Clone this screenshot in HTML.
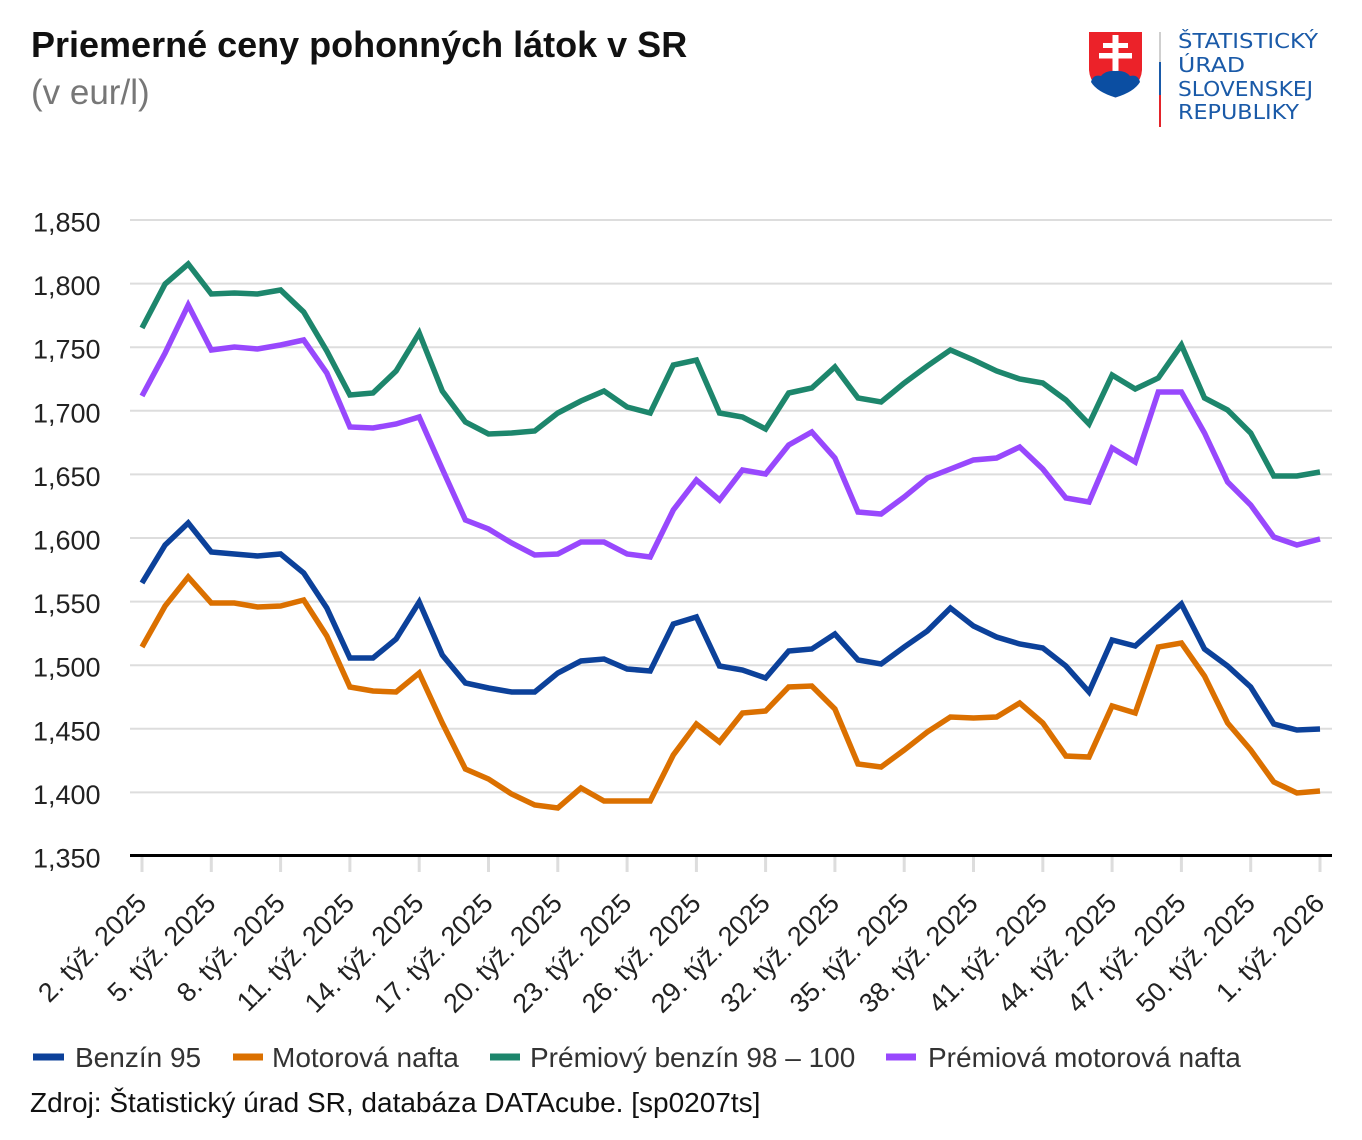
<!DOCTYPE html>
<html>
<head>
<meta charset="utf-8">
<style>
  html, body { margin: 0; padding: 0; background: #ffffff; }
  body { width: 1362px; height: 1140px; overflow: hidden; }
  svg { display: block; }
  text { font-family: "Liberation Sans", Arial, sans-serif; }
</style>
</head>
<body>
<svg width="1362" height="1140" viewBox="0 0 1362 1140" xmlns="http://www.w3.org/2000/svg">
  <rect x="0" y="0" width="1362" height="1140" fill="#ffffff"/>

  <!-- Title -->
  <text x="31" y="57" font-size="36" font-weight="bold" fill="#111111">Priemerné ceny pohonných látok v SR</text>
  <text x="31" y="104" font-size="35" fill="#777777">(v eur/l)</text>

  <!-- Logo -->
  <g>
    <path d="M1089,32 L1142,32 L1142,70 Q1141,88 1115.5,97.5 Q1090,88 1089,70 Z" fill="#ec2229"/>
    <rect x="1112.5" y="35" width="6" height="38" fill="#ffffff"/>
    <rect x="1103" y="43" width="25" height="5" fill="#ffffff"/>
    <rect x="1099" y="53" width="33" height="5.5" fill="#ffffff"/>
    <path d="M1091,82 Q1093,74 1101,76 Q1106,70 1115.5,71 Q1125,70 1130,76 Q1138,74 1140,82 Q1134,92 1115.5,97.5 Q1097,92 1091,82 Z" fill="#0b4ea2"/>
    <rect x="1159" y="32" width="2" height="30" fill="#cfcfcf"/>
    <rect x="1159" y="62" width="2" height="33" fill="#1a5aa8"/>
    <rect x="1159" y="95" width="2" height="32" fill="#e3232a"/>
    <g fill="#1a5aa8" font-size="20" style="font-family:'DejaVu Sans','Liberation Sans',sans-serif">
      <text x="1178" y="48" textLength="140" lengthAdjust="spacingAndGlyphs" style="font-family:'DejaVu Sans','Liberation Sans',sans-serif">ŠTATISTICKÝ</text>
      <text x="1178" y="72" textLength="67" lengthAdjust="spacingAndGlyphs" style="font-family:'DejaVu Sans','Liberation Sans',sans-serif">ÚRAD</text>
      <text x="1178" y="96" textLength="135" lengthAdjust="spacingAndGlyphs" style="font-family:'DejaVu Sans','Liberation Sans',sans-serif">SLOVENSKEJ</text>
      <text x="1178" y="119" textLength="121" lengthAdjust="spacingAndGlyphs" style="font-family:'DejaVu Sans','Liberation Sans',sans-serif">REPUBLIKY</text>
    </g>
  </g>

  <!-- Gridlines -->
  <g stroke="#dddddd" stroke-width="2">
    <line x1="130" y1="220" x2="1332" y2="220"/>
    <line x1="130" y1="283.6" x2="1332" y2="283.6"/>
    <line x1="130" y1="347.2" x2="1332" y2="347.2"/>
    <line x1="130" y1="410.8" x2="1332" y2="410.8"/>
    <line x1="130" y1="474.4" x2="1332" y2="474.4"/>
    <line x1="130" y1="538" x2="1332" y2="538"/>
    <line x1="130" y1="601.6" x2="1332" y2="601.6"/>
    <line x1="130" y1="665.2" x2="1332" y2="665.2"/>
    <line x1="130" y1="728.8" x2="1332" y2="728.8"/>
    <line x1="130" y1="792.4" x2="1332" y2="792.4"/>
  </g>

  <!-- Y labels -->
  <g font-size="27" fill="#222222">
    <text x="33" y="231.5">1,850</text>
    <text x="33" y="295.1">1,800</text>
    <text x="33" y="358.7">1,750</text>
    <text x="33" y="422.3">1,700</text>
    <text x="33" y="485.9">1,650</text>
    <text x="33" y="549.5">1,600</text>
    <text x="33" y="613.1">1,550</text>
    <text x="33" y="676.7">1,500</text>
    <text x="33" y="740.3">1,450</text>
    <text x="33" y="803.9">1,400</text>
    <text x="33" y="867.5">1,350</text>
  </g>

  <!-- Ticks -->
  <g stroke="#dddddd" stroke-width="3">
    <line x1="142" y1="857" x2="142" y2="872"/>
    <line x1="211.3" y1="857" x2="211.3" y2="872"/>
    <line x1="280.6" y1="857" x2="280.6" y2="872"/>
    <line x1="349.9" y1="857" x2="349.9" y2="872"/>
    <line x1="419.2" y1="857" x2="419.2" y2="872"/>
    <line x1="488.5" y1="857" x2="488.5" y2="872"/>
    <line x1="557.8" y1="857" x2="557.8" y2="872"/>
    <line x1="627.1" y1="857" x2="627.1" y2="872"/>
    <line x1="696.4" y1="857" x2="696.4" y2="872"/>
    <line x1="765.6" y1="857" x2="765.6" y2="872"/>
    <line x1="834.9" y1="857" x2="834.9" y2="872"/>
    <line x1="904.2" y1="857" x2="904.2" y2="872"/>
    <line x1="973.5" y1="857" x2="973.5" y2="872"/>
    <line x1="1042.8" y1="857" x2="1042.8" y2="872"/>
    <line x1="1112.1" y1="857" x2="1112.1" y2="872"/>
    <line x1="1181.4" y1="857" x2="1181.4" y2="872"/>
    <line x1="1250.7" y1="857" x2="1250.7" y2="872"/>
    <line x1="1320" y1="857" x2="1320" y2="872"/>
  </g>

  <!-- Axis line -->
  <line x1="130" y1="855.5" x2="1332" y2="855.5" stroke="#000000" stroke-width="3"/>

  <!-- X labels -->
  <g font-size="27" fill="#222222" text-anchor="end">
    <text transform="translate(148,905) rotate(-45)">2. týž. 2025</text>
    <text transform="translate(217.3,905) rotate(-45)">5. týž. 2025</text>
    <text transform="translate(286.6,905) rotate(-45)">8. týž. 2025</text>
    <text transform="translate(355.9,905) rotate(-45)">11. týž. 2025</text>
    <text transform="translate(425.2,905) rotate(-45)">14. týž. 2025</text>
    <text transform="translate(494.5,905) rotate(-45)">17. týž. 2025</text>
    <text transform="translate(563.8,905) rotate(-45)">20. týž. 2025</text>
    <text transform="translate(633.1,905) rotate(-45)">23. týž. 2025</text>
    <text transform="translate(702.4,905) rotate(-45)">26. týž. 2025</text>
    <text transform="translate(771.6,905) rotate(-45)">29. týž. 2025</text>
    <text transform="translate(840.9,905) rotate(-45)">32. týž. 2025</text>
    <text transform="translate(910.2,905) rotate(-45)">35. týž. 2025</text>
    <text transform="translate(979.5,905) rotate(-45)">38. týž. 2025</text>
    <text transform="translate(1048.8,905) rotate(-45)">41. týž. 2025</text>
    <text transform="translate(1118.1,905) rotate(-45)">44. týž. 2025</text>
    <text transform="translate(1187.4,905) rotate(-45)">47. týž. 2025</text>
    <text transform="translate(1256.7,905) rotate(-45)">50. týž. 2025</text>
    <text transform="translate(1326,905) rotate(-45)">1. týž. 2026</text>
  </g>

  <!-- Series -->
  <g fill="none" stroke-width="5.5" stroke-linejoin="miter" stroke-linecap="butt" stroke-miterlimit="10">
    <polyline stroke="#1d866c" points="142,328 165.1,284 188.2,264 211.3,294 234.4,293 257.5,294 280.6,290 303.7,312 326.8,351 349.9,395 373,393 396.1,371 419.2,333 442.3,391 465.4,422 488.5,434 511.6,433 534.7,431 557.8,413 580.9,401 604,391 627.1,407 650.2,413 673.3,365 696.4,360 719.5,413 742.5,417 765.6,429 788.7,393 811.8,388 834.9,367 858,398 881.1,402 904.2,383 927.3,366 950.4,350 973.5,360 996.6,371 1019.7,379 1042.8,383 1065.9,400 1089,424 1112.1,375 1135.2,389 1158.3,378 1181.4,345 1204.5,398 1227.6,410 1250.7,433 1273.8,476 1296.9,476 1320,472"/>
    <polyline stroke="#9848fd" points="142,396 165.1,353 188.2,305 211.3,350 234.4,347 257.5,349 280.6,345 303.7,340 326.8,373 349.9,427 373,428 396.1,424 419.2,417 442.3,469 465.4,520 488.5,529 511.6,543 534.7,555 557.8,554 580.9,542 604,542 627.1,554 650.2,557 673.3,510 696.4,480 719.5,500 742.5,470 765.6,474 788.7,445 811.8,432 834.9,458 858,512 881.1,514 904.2,497 927.3,478 950.4,469 973.5,460 996.6,458 1019.7,447 1042.8,469 1065.9,498 1089,502 1112.1,448 1135.2,462 1158.3,392 1181.4,392 1204.5,433 1227.6,482 1250.7,505 1273.8,537 1296.9,545 1320,539"/>
    <polyline stroke="#0c419a" points="142,583 165.1,545 188.2,523 211.3,552 234.4,554 257.5,556 280.6,554 303.7,573 326.8,608 349.9,658 373,658 396.1,639 419.2,602 442.3,655 465.4,683 488.5,688 511.6,692 534.7,692 557.8,673 580.9,661 604,659 627.1,669 650.2,671 673.3,624 696.4,617 719.5,666 742.5,670 765.6,678 788.7,651 811.8,649 834.9,634 858,660 881.1,664 904.2,647 927.3,631 950.4,608 973.5,626 996.6,637 1019.7,644 1042.8,648 1065.9,666 1089,692 1112.1,640 1135.2,646 1158.3,625 1181.4,604 1204.5,649 1227.6,666 1250.7,687 1273.8,724 1296.9,730 1320,729"/>
    <polyline stroke="#db7000" points="142,647 165.1,606 188.2,577 211.3,603 234.4,603 257.5,607 280.6,606 303.7,600 326.8,636 349.9,687 373,691 396.1,692 419.2,673 442.3,723 465.4,769 488.5,779 511.6,794 534.7,805 557.8,808 580.9,788 604,801 627.1,801 650.2,801 673.3,755 696.4,724 719.5,742 742.5,713 765.6,711 788.7,687 811.8,686 834.9,709 858,764 881.1,767 904.2,750 927.3,732 950.4,717 973.5,718 996.6,717 1019.7,703 1042.8,723 1065.9,756 1089,757 1112.1,706 1135.2,713 1158.3,647 1181.4,643 1204.5,676 1227.6,723 1250.7,750 1273.8,782 1296.9,793 1320,791"/>
  </g>

  <!-- Legend -->
  <g font-size="28" fill="#333333">
    <rect x="33" y="1053.5" width="31" height="7" fill="#0c419a"/>
    <text x="75" y="1067">Benzín 95</text>
    <rect x="233" y="1053.5" width="30" height="7" fill="#db7000"/>
    <text x="272" y="1067">Motorová nafta</text>
    <rect x="490" y="1053.5" width="30" height="7" fill="#1d866c"/>
    <text x="530" y="1067">Prémiový benzín 98 – 100</text>
    <rect x="886" y="1053.5" width="30" height="7" fill="#9848fd"/>
    <text x="928" y="1067">Prémiová motorová nafta</text>
  </g>

  <!-- Source -->
  <text x="30" y="1112" font-size="28" fill="#111111">Zdroj: Štatistický úrad SR, databáza DATAcube. [sp0207ts]</text>
</svg>
</body>
</html>
